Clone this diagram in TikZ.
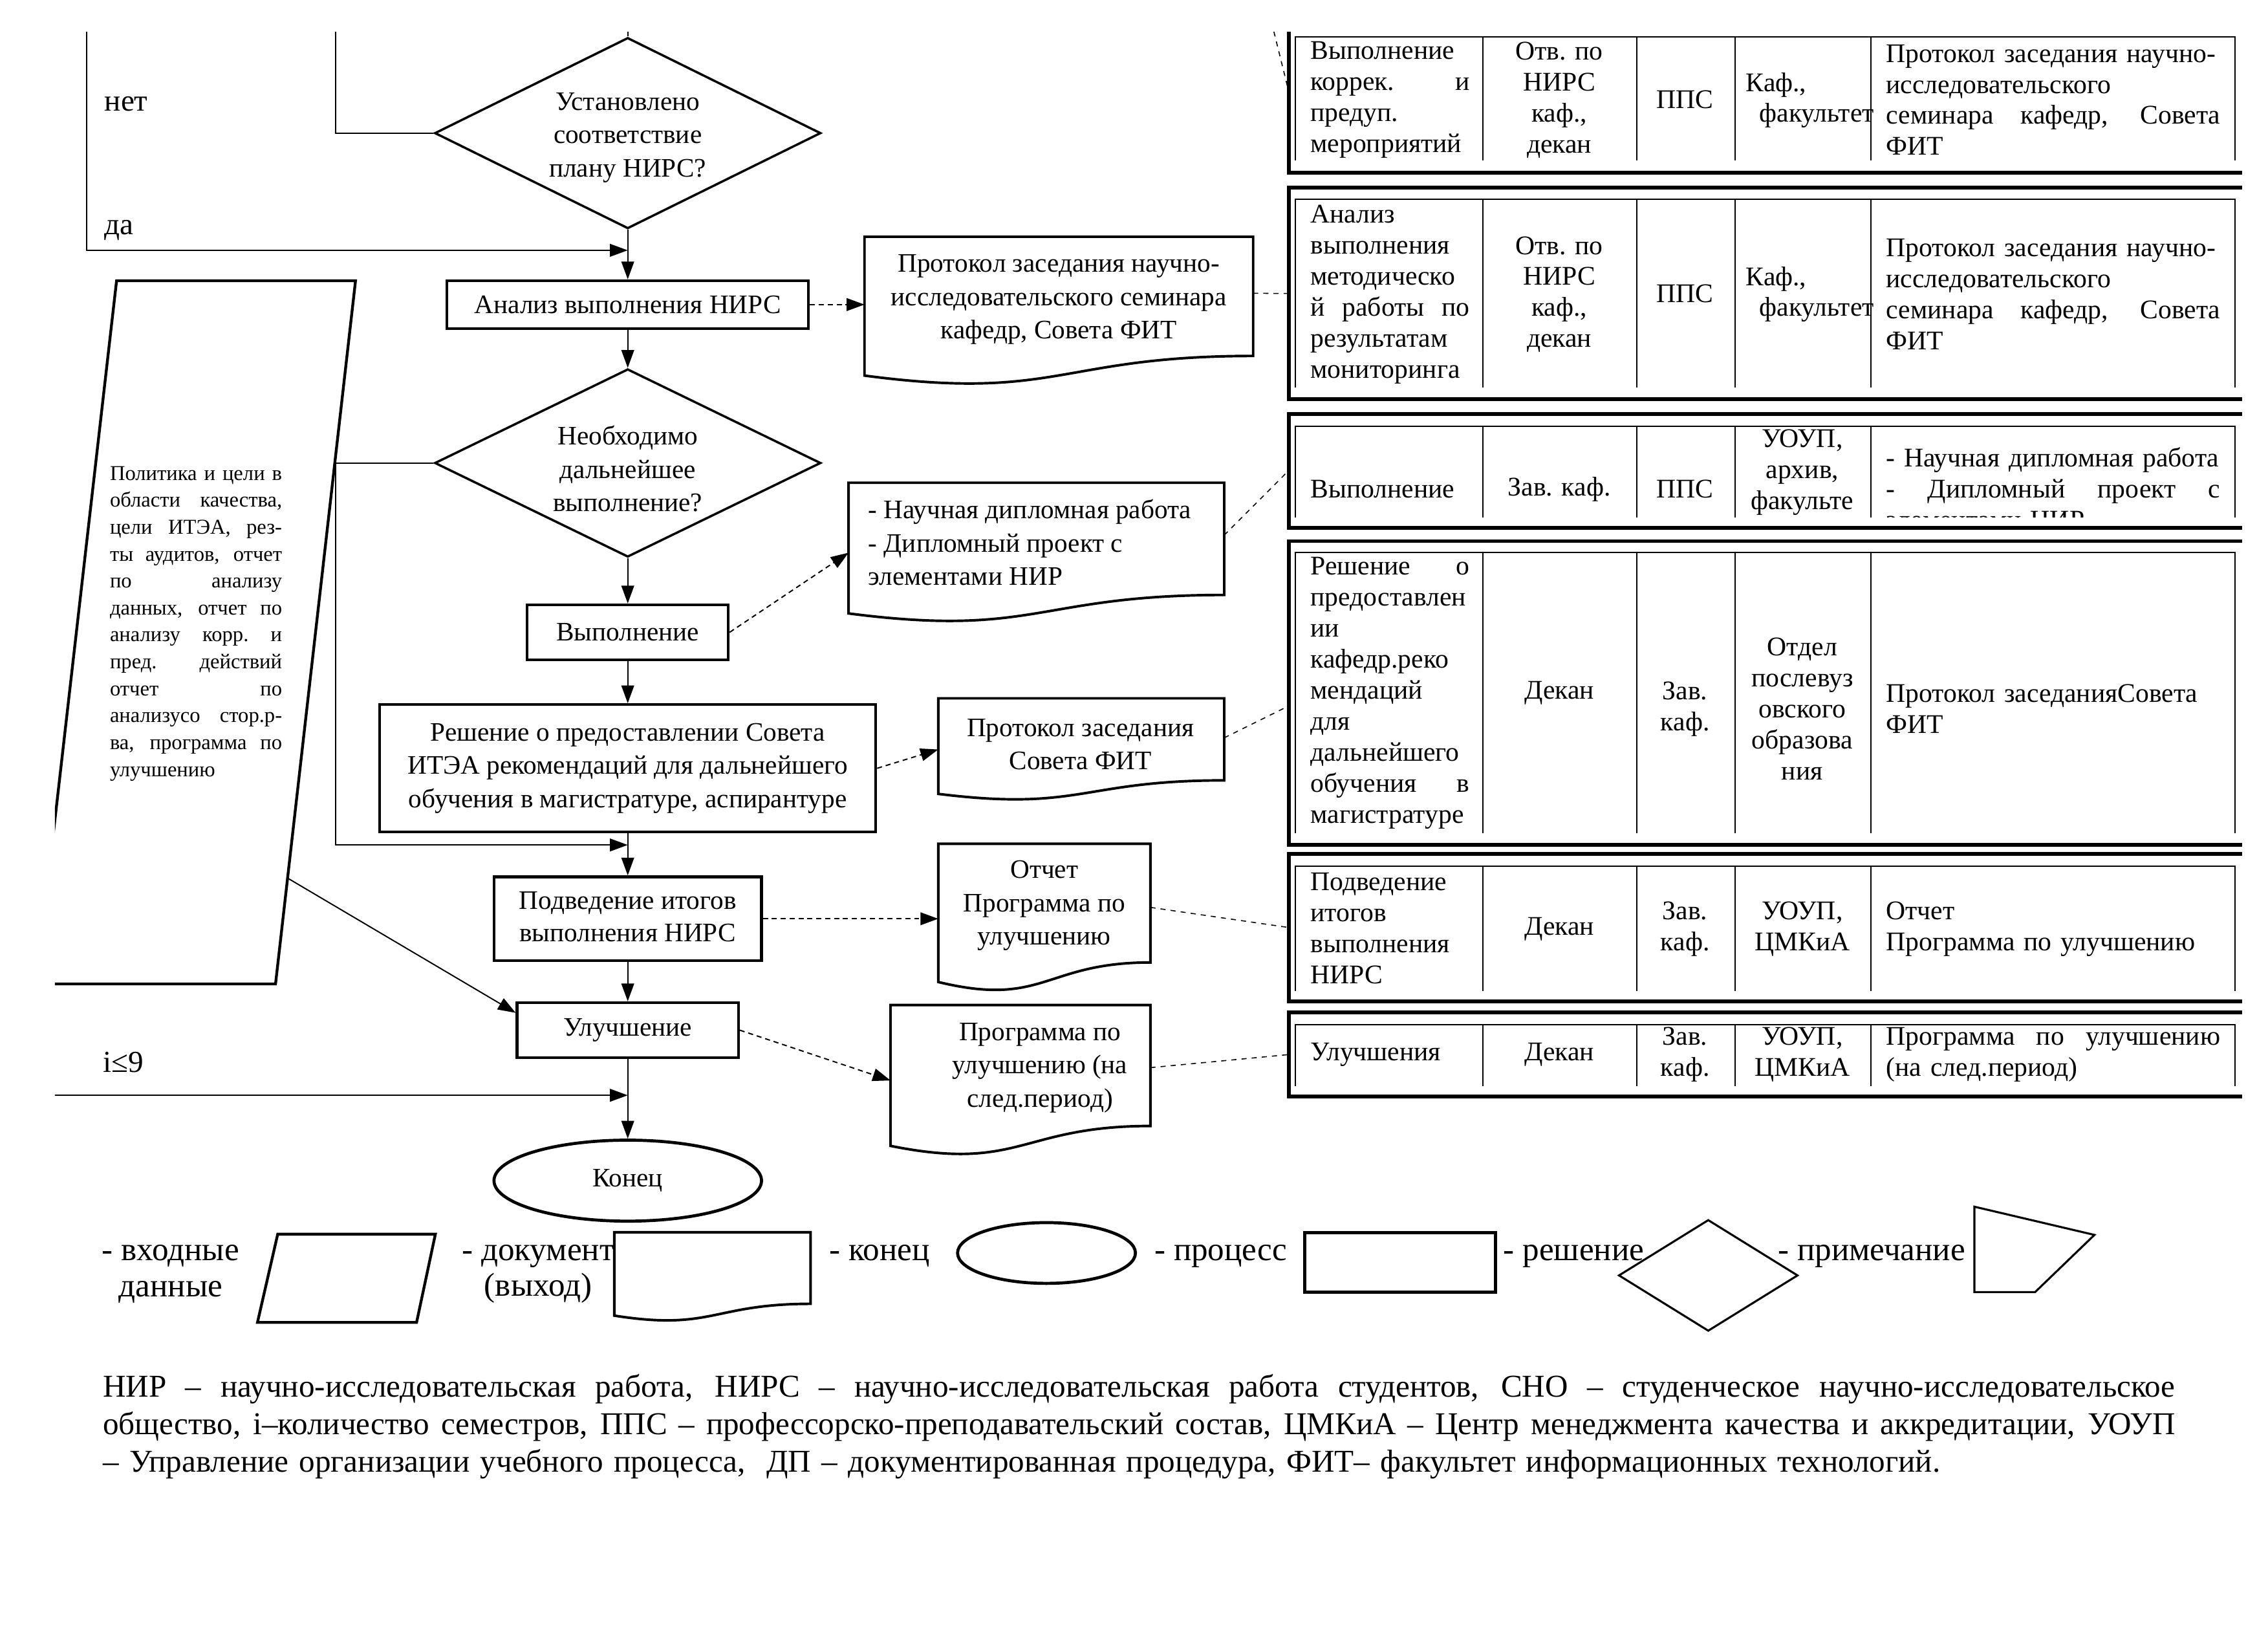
\documentclass[tikz,border=0pt]{standalone}
\usepackage{fontspec}
\setmainfont{Liberation Serif}
\usetikzlibrary{arrows.meta,shapes.geometric,calc,fit}
\newcommand\fontflow{\fontsize{10.5}{13.1}\selectfont}
\newcommand\fonttab{\fontsize{10.6}{12.2}\selectfont}
\newcommand\fontpar{\fontsize{8.3}{10.6}\selectfont}
\newcommand\fontleg{\fontsize{13}{14.2}\selectfont}
\newcommand\fontbot{\fontsize{12.5}{14.8}\selectfont}
\newcommand\jw[2]{\makebox[#1][s]{\spaceskip=0.25em plus 1fil\xspaceskip=0.25em plus 1fil\relax #2}}
\newcommand\jone[1]{\jw{2.2cm}{#1}}
\newcommand\jfive[1]{\jw{4.62cm}{#1}}
\newcommand\jpar[1]{\jw{2.38cm}{#1}}
\newcommand\jbot[1]{\jw{28.66cm}{#1}}
\newcommand\docpath[1]{%
  \draw[docline] (#1.north west) -- (#1.north east) -- ($(#1.north east)!0.802!(#1.south east)$)
   .. controls ($(#1.north)!0.802!(#1.south)$) and ($(#1.north)!1.1075!(#1.south)$) ..
   ($(#1.north west)!0.934!(#1.south west)$) -- cycle;}
\begin{document}
\begin{tikzpicture}[x=0.02cm,y=-0.02cm,
  proc/.style={draw, line width=1.1pt, rectangle, inner sep=0pt, align=center, font=\fontflow},
  dec/.style={draw, diamond, aspect=2, line width=0.9pt, inner sep=0pt},
  term/.style={draw, ellipse, line width=1.2pt, inner sep=0pt, font=\fontflow},
  docline/.style={line width=1pt},
  fbox/.style={inner sep=0pt},
  ftext/.style={inner sep=0pt, align=center, font=\fontflow},
  cell/.style={inner sep=0pt, align=center, font=\fonttab},
  cellL/.style={inner sep=0pt, align=left, font=\fonttab, text width=#1},
  lbl/.style={inner sep=0pt, font=\fontsize{12}{14}\selectfont},
  leg/.style={inner sep=0pt, align=center, font=\fontleg},
  arr/.style={-{Triangle[length=7pt,width=5pt]}, line width=0.5pt},
  darr/.style={arr, dash pattern=on 2pt off 1.5pt},
  dline/.style={line width=0.4pt, dash pattern=on 2pt off 2pt},
  outer/.style={line width=1.5pt},
  inner/.style={line width=0.5pt}]
\useasboundingbox (0,0) rectangle (1568,1123);
\begin{scope}
\clip (38,22) rectangle (1550,1123);

% ---------- flow nodes ----------
\node[dec, minimum width=5.34cm, minimum height=2.64cm] (d1) at (434,92) {};
\node[ftext] (d1t) at (434,95) {Установлено\\соответствие\\плану НИРС?};
\node[proc, minimum width=5.0cm, minimum height=0.66cm] (a1) at (434,210.5) {\raisebox{-1pt}{Анализ выполнения НИРС}};
\node[dec, minimum width=5.34cm, minimum height=2.6cm] (d2) at (434,320) {};
\node[ftext] (d2t) at (434,324) {Необходимо\\дальнейшее\\выполнение?};
\node[proc, minimum width=2.78cm, minimum height=0.76cm] (v1) at (434,437) {Выполнение};
\node[proc, minimum width=6.86cm, minimum height=1.76cm] (r1) at (434,531) {Решение о предоставлении Совета\\ИТЭА рекомендаций для дальнейшего\\обучения в магистратуре, аспирантуре};
\node[proc, minimum width=3.7cm, minimum height=1.16cm] (p1) at (434,635) {\raisebox{-1.5pt}{\begin{tabular}{@{}c@{}}Подведение итогов\\[-0.2pt]выполнения НИРС\end{tabular}}};
\node[proc, minimum width=3.06cm, minimum height=0.76cm] (u1) at (434,712) {\raisebox{-1pt}{Улучшение}};
\node[term, minimum width=3.7cm, minimum height=1.12cm] (e1) at (434,816) {Конец};

% ---------- documents ----------
\node[fbox, fit={(598,164) (866,266)}] (doc1) {};
\docpath{doc1}
\node[ftext] (doc1t) at (732,207) {Протокол заседания научно-\\исследовательского семинара\\кафедр, Совета ФИТ};
\node[fbox, fit={(587,334) (846,430)}] (doc2) {};
\docpath{doc2}
\node[ftext, align=left, anchor=west] (doc2t) at (600,375) {- Научная дипломная работа\\- Дипломный проект с\\элементами НИР};
\node[fbox, fit={(649,483) (846,553)}] (doc3) {};
\docpath{doc3}
\node[ftext] (doc3t) at (747,514.5) {Протокол заседания\\Совета ФИТ};
\node[fbox, fit={(649,583.5) (795,685.1)}] (doc4) {};
\docpath{doc4}
\node[ftext] (doc4t) at (722,626) {Отчет\\Программа по\\улучшению};
\node[fbox, fit={(616,695) (795,798.5)}] (doc5) {};
\docpath{doc5}
\node[ftext] (doc5t) at (719,738) {Программа по\\улучшению (на\\след.период)};

% ---------- input parallelogram ----------
\draw[line width=1.1pt] (80.6,194) -- (245.8,194) -- (190.5,680) -- (25,680) -- cycle;
\node[inner sep=0pt, align=left, font=\fontpar, text width=2.38cm] (inp) at (135.5,431)
 {\jpar{Политика и цели в}\\\jpar{области качества,}\\\jpar{цели ИТЭА, рез-}\\\jpar{ты аудитов, отчет}\\\jpar{по анализу}\\\jpar{данных, отчет по}\\\jpar{анализу корр. и}\\\jpar{пред. действий}\\\jpar{отчет по}\\\jpar{анализусо стор.р-}\\\jpar{ва, программа по}\\улучшению};
\coordinate (inpe) at (199,607);

% ---------- labels ----------
\node[lbl, anchor=west] (lno) at (72,72) {нет};
\node[lbl, anchor=west] (lyes) at (72,159) {да};
\node[lbl, anchor=west] (li) at (71,734) {i≤9};

% ---------- flow connectors ----------
\coordinate (c1) at (232,15);
\coordinate (c2) at (60,15);
\coordinate (c3) at (30,757);
\coordinate (c4) at (434,15);
\coordinate (j1) at (434,173);
\coordinate (j2) at (434,584);
\coordinate (j3) at (434,757);
\draw[line width=0.5pt] (c4) -- (d1.north);
\draw[line width=0.5pt] (d1.west) -| (c1);
\draw[arr] (c2) |- (j1);
\draw[arr] (d1.south) -- (a1.north);
\draw[arr] (a1.south) -- (d2.north);
\draw[arr] (d2.south) -- (v1.north);
\draw[arr] (v1.south) -- (r1.north);
\draw[arr] (r1.south) -- (p1.north);
\draw[arr] (p1.south) -- (u1.north);
\draw[arr] (u1.south) -- (e1.north);
\draw[arr] (d2.west) -- (232,320) |- (j2);
\draw[arr] (c3) -- (j3);
\draw[arr] (inpe) -- ([yshift=-0.16cm]u1.north west);

\draw[darr] (a1.east) -- (a1.east -| doc1.west);
\draw[darr] (v1.east) -- (doc2.west);
\draw[darr] (r1.east) -- (doc3.west);
\draw[darr] (p1.east) -- (p1.east -| doc4.west);
\draw[darr] (u1.east) -- (doc5.west);

% ---------- table ----------
\foreach \n/\ot/\it/\ib/\ob in {1/15/25.5/111/119.5, 2/129.7/137.6/268/276, 3/286/294.5/357.5/365, 4/374/382/576/584, 5/590/598.7/685/692, 6/699.8/708/750.5/758} {
  \node[fbox, fit={(891,\ot) (1552,\ob)}] (t\n) {};
  \draw[outer] (1552,\ot) -- (891,\ot) -- (891,\ob) -- (1552,\ob);
  \draw[inner] (895.5,\ib) -- (895.5,\it) -- (1545,\it) -- (1545,\ib);
  \foreach \x in {1025,1131.7,1199.6,1293.5} \draw[inner] (\x,\it) -- (\x,\ib);
}
\coordinate (c5) at (879,15);
\draw[dline] (c5) -- ($(t1.north west)!0.45!(t1.south west)$);
\draw[dline] ($(doc1.north east)!0.38!(doc1.south east)$) -- (t2.west);
\draw[dline] ($(doc2.north east)!0.375!(doc2.south east)$) -- (t3.west);
\draw[dline] ($(doc3.north east)!0.386!(doc3.south east)$) -- ($(t4.north west)!0.543!(t4.south west)$);
\draw[dline] ($(doc4.north east)!0.43!(doc4.south east)$) -- (t5.west);
\draw[dline] ($(doc5.north east)!0.415!(doc5.south east)$) -- (t6.west);

% row 1
\node[cellL=2.2cm] (r1c1) at (961,69) {Выполнение\\\jone{коррек. и}\\предуп.\\мероприятий};
\node[cell] (r1c2) at (1078,69) {Отв. по\\НИРС\\каф.,\\декан};
\node[cell] (r1c3) at (1165,69) {ППС};
\node[cell] (r1c4a) at (1228,59) {Каф.,};
\node[cell] (r1c4b) at (1256,80) {факультет};
\node[cellL=4.62cm] (r1c5) at (1419.5,69) {Протокол заседания научно-\\исследовательского\\\jfive{семинара кафедр, Совета}\\ФИТ};
% row 2
\node[cellL=2.2cm] (r2c1) at (961,203.5) {Анализ\\выполнения\\методическо\\\jone{й работы по}\\результатам\\мониторинга};
\node[cell] (r2c2) at (1078,203.5) {Отв. по\\НИРС\\каф.,\\декан};
\node[cell] (r2c3) at (1165,203) {ППС};
\node[cell] (r2c4a) at (1228,193) {Каф.,};
\node[cell] (r2c4b) at (1256,214) {факультет};
\node[cellL=4.62cm] (r2c5) at (1419.5,203.5) {Протокол заседания научно-\\исследовательского\\\jfive{семинара кафедр, Совета}\\ФИТ};
% row 3
\begin{scope}
\clip (895,294.5) rectangle (1545,357.5);
\node[cellL=2.2cm] (r3c1) at (961,338) {Выполнение};
\node[cell] (r3c2) at (1078,338) {Зав. каф.};
\node[cell] (r3c3) at (1165,338) {ППС};
\node[cell] (r3c4) at (1246,326.5) {УОУП,\\архив,\\факульте};
\node[cellL=4.62cm] (r3c5) at (1419.5,337.5) {- Научная дипломная работа\\\jfive{- Дипломный проект с}\\элементами НИР};
\end{scope}
% row 4
\node[cellL=2.2cm] (r4c1) at (961,479) {\jone{Решение о}\\предоставлен\\ии\\кафедр.реко\\мендаций\\для\\дальнейшего\\\jone{обучения в}\\магистратуре};
\node[cell] (r4c2) at (1078,479) {Декан};
\node[cell] (r4c3) at (1165,490) {Зав.\\каф.};
\node[cell] (r4c4) at (1246,490) {Отдел\\послевуз\\овского\\образова\\ния};
\node[cellL=4.62cm] (r4c5) at (1419.5,490) {Протокол заседанияСовета\\ФИТ};
% row 5
\node[cellL=2.2cm] (r5c1) at (961,641.5) {Подведение\\итогов\\выполнения\\НИРС};
\node[cell] (r5c2) at (1078,642) {Декан};
\node[cell] (r5c3) at (1165,642) {Зав.\\каф.};
\node[cell] (r5c4) at (1246,642) {УОУП,\\ЦМКиА};
\node[cellL=4.62cm] (r5c5) at (1419.5,642) {Отчет\\Программа по улучшению};
% row 6
\node[cellL=2.2cm] (r6c1) at (961,729) {Улучшения};
\node[cell] (r6c2) at (1078,729) {Декан};
\node[cell] (r6c3) at (1165,729) {Зав.\\каф.};
\node[cell] (r6c4) at (1246,729) {УОУП,\\ЦМКиА};
\node[cellL=4.62cm] (r6c5) at (1419.5,729) {\jfive{Программа по улучшению}\\(на след.период)};

% ---------- legend ----------
\node[leg] (lg1t) at (118,880.5) {- входные\\данные};
\draw[line width=1.1pt] (192,853) -- (301,853) -- (288,914) -- (178,914) -- cycle;
\node[leg] (lg2t) at (372,880.5) {- документ\\(выход)};
\node[fbox, fit={(425,852) (560,913)}] (lgdoc) {};
\docpath{lgdoc}
\node[leg] (lg3t) at (608,868) {- конец};
\node[draw, ellipse, line width=1.2pt, minimum width=2.46cm, minimum height=0.84cm] (lgell) at (723.5,866) {};
\node[leg] (lg4t) at (844,868) {- процесс};
\node[draw, rectangle, line width=1.2pt, minimum width=2.64cm, minimum height=0.82cm] (lgrect) at (968,872.5) {};
\node[leg] (lg5t) at (1088,868) {- решение};
\node[draw, diamond, line width=0.8pt, minimum width=2.48cm, minimum height=1.54cm, inner sep=0pt] (lgdia) at (1181,881.5) {};
\node[leg] (lg6t) at (1294,868) {- примечание};
\draw[line width=0.8pt] (1365,834) -- (1448,853.5) -- (1407,893) -- (1365,893) -- cycle;

% ---------- bottom text ----------
\node[inner sep=0pt, align=left, font=\fontbot, text width=28.66cm] (note) at (787.5,986)
 {\jbot{НИР – научно-исследовательская работа, НИРС – научно-исследовательская работа студентов, СНО – студенческое научно-исследовательское}\\\jbot{общество, i–количество семестров, ППС – профессорско-преподавательский состав, ЦМКиА – Центр менеджмента качества и аккредитации, УОУП}\\– Управление организации учебного процесса,\ \ ДП – документированная процедура, ФИТ– факультет информационных технологий.};
\end{scope}
\end{tikzpicture}
\end{document}
